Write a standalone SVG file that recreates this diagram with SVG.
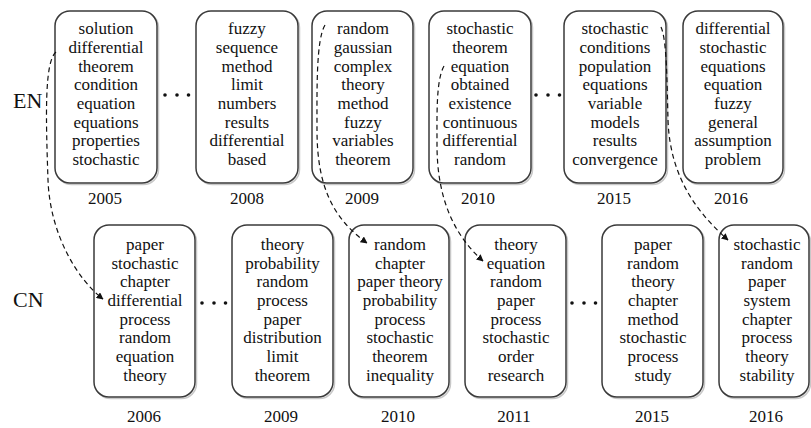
<svg xmlns="http://www.w3.org/2000/svg" width="811" height="428" viewBox="0 0 811 428">
<style>
  .box { fill: #ffffff; stroke: #3a3a3a; stroke-width: 1.5; }
  .shadow { fill: none; stroke: #c8c8c8; stroke-width: 1.5; }
  .t { font-family: "Liberation Serif", "Times New Roman", serif; font-size: 17px; fill: #111; text-anchor: middle; }
  .yr { font-family: "Liberation Serif", "Times New Roman", serif; font-size: 17px; fill: #111; text-anchor: middle; }
  .lang { font-family: "Liberation Serif", "Times New Roman", serif; font-size: 22px; fill: #111; }
  .conn { fill: none; stroke: #111; stroke-width: 1.2; stroke-dasharray: 5 3.5; }
  .dot { fill: #111; }
</style>
<defs>
  <marker id="arr" viewBox="0 0 10 10" refX="9" refY="5" markerWidth="7" markerHeight="7" markerUnits="userSpaceOnUse" orient="auto">
    <path d="M0,0 L10,5 L0,10 z" fill="#111"/>
  </marker>
</defs>
<rect width="811" height="428" fill="#ffffff"/>

<text class="lang" x="13" y="108">EN</text>
<text class="lang" x="13" y="307">CN</text>

<!-- Top row -->
<g id="en2005">
  <rect class="shadow" x="56.5" y="12.5" width="102" height="172" rx="15"/>
  <rect class="box" x="55" y="11" width="102" height="172" rx="15"/>
  <text class="t" x="106" y="34.3">solution</text>
  <text class="t" x="106" y="53">differential</text>
  <text class="t" x="106" y="71.6">theorem</text>
  <text class="t" x="106" y="90.3">condition</text>
  <text class="t" x="106" y="109">equation</text>
  <text class="t" x="106" y="127.6">equations</text>
  <text class="t" x="106" y="146.3">properties</text>
  <text class="t" x="106" y="165">stochastic</text>
  <text class="yr" x="105" y="204">2005</text>
</g>
<g id="en2008">
  <rect class="shadow" x="197.5" y="12.5" width="102" height="172" rx="15"/>
  <rect class="box" x="196" y="11" width="102" height="172" rx="15"/>
  <text class="t" x="247" y="34.3">fuzzy</text>
  <text class="t" x="247" y="53">sequence</text>
  <text class="t" x="247" y="71.6">method</text>
  <text class="t" x="247" y="90.3">limit</text>
  <text class="t" x="247" y="109">numbers</text>
  <text class="t" x="247" y="127.6">results</text>
  <text class="t" x="247" y="146.3">differential</text>
  <text class="t" x="247" y="165">based</text>
  <text class="yr" x="247" y="204">2008</text>
</g>
<g id="en2009">
  <rect class="shadow" x="313.5" y="12.5" width="101" height="172" rx="15"/>
  <rect class="box" x="312" y="11" width="101" height="172" rx="15"/>
  <text class="t" x="363" y="34.3">random</text>
  <text class="t" x="363" y="53">gaussian</text>
  <text class="t" x="363" y="71.6">complex</text>
  <text class="t" x="363" y="90.3">theory</text>
  <text class="t" x="363" y="109">method</text>
  <text class="t" x="363" y="127.6">fuzzy</text>
  <text class="t" x="363" y="146.3">variables</text>
  <text class="t" x="363" y="165">theorem</text>
  <text class="yr" x="362" y="204">2009</text>
</g>
<g id="en2010">
  <rect class="shadow" x="430.5" y="12.5" width="102" height="172" rx="15"/>
  <rect class="box" x="429" y="11" width="102" height="172" rx="15"/>
  <text class="t" x="480" y="34.3">stochastic</text>
  <text class="t" x="480" y="53">theorem</text>
  <text class="t" x="480" y="71.6">equation</text>
  <text class="t" x="480" y="90.3">obtained</text>
  <text class="t" x="480" y="109">existence</text>
  <text class="t" x="480" y="127.6">continuous</text>
  <text class="t" x="480" y="146.3">differential</text>
  <text class="t" x="480" y="165">random</text>
  <text class="yr" x="478" y="204">2010</text>
</g>
<g id="en2015">
  <rect class="shadow" x="565.5" y="12.5" width="102" height="172" rx="15"/>
  <rect class="box" x="564" y="11" width="102" height="172" rx="15"/>
  <text class="t" x="615" y="34.3">stochastic</text>
  <text class="t" x="615" y="53">conditions</text>
  <text class="t" x="615" y="71.6">population</text>
  <text class="t" x="615" y="90.3">equations</text>
  <text class="t" x="615" y="109">variable</text>
  <text class="t" x="615" y="127.6">models</text>
  <text class="t" x="615" y="146.3">results</text>
  <text class="t" x="615" y="165">convergence</text>
  <text class="yr" x="614" y="204">2015</text>
</g>
<g id="en2016">
  <rect class="shadow" x="684.5" y="12.5" width="100" height="172" rx="15"/>
  <rect class="box" x="683" y="11" width="100" height="172" rx="15"/>
  <text class="t" x="733" y="34.3">differential</text>
  <text class="t" x="733" y="53">stochastic</text>
  <text class="t" x="733" y="71.6">equations</text>
  <text class="t" x="733" y="90.3">equation</text>
  <text class="t" x="733" y="109">fuzzy</text>
  <text class="t" x="733" y="127.6">general</text>
  <text class="t" x="733" y="146.3">assumption</text>
  <text class="t" x="733" y="165">problem</text>
  <text class="yr" x="731" y="204">2016</text>
</g>

<!-- Bottom row -->
<g id="cn2006">
  <rect class="shadow" x="95.5" y="226.5" width="101" height="172" rx="15"/>
  <rect class="box" x="94" y="225" width="101" height="172" rx="15"/>
  <text class="t" x="145" y="250">paper</text>
  <text class="t" x="145" y="268.7">stochastic</text>
  <text class="t" x="145" y="287.3">chapter</text>
  <text class="t" x="145" y="306">differential</text>
  <text class="t" x="145" y="324.7">process</text>
  <text class="t" x="145" y="343.3">random</text>
  <text class="t" x="145" y="362">equation</text>
  <text class="t" x="145" y="380.7">theory</text>
  <text class="yr" x="144" y="422">2006</text>
</g>
<g id="cn2009">
  <rect class="shadow" x="233.5" y="226.5" width="101" height="172" rx="15"/>
  <rect class="box" x="232" y="225" width="101" height="172" rx="15"/>
  <text class="t" x="282.5" y="250">theory</text>
  <text class="t" x="282.5" y="268.7">probability</text>
  <text class="t" x="282.5" y="287.3">random</text>
  <text class="t" x="282.5" y="306">process</text>
  <text class="t" x="282.5" y="324.7">paper</text>
  <text class="t" x="282.5" y="343.3">distribution</text>
  <text class="t" x="282.5" y="362">limit</text>
  <text class="t" x="282.5" y="380.7">theorem</text>
  <text class="yr" x="281" y="422">2009</text>
</g>
<g id="cn2010">
  <rect class="shadow" x="350.5" y="226.5" width="100" height="172" rx="15"/>
  <rect class="box" x="349" y="225" width="100" height="172" rx="15"/>
  <text class="t" x="400" y="250">random</text>
  <text class="t" x="400" y="268.7">chapter</text>
  <text class="t" x="400" y="287.3">paper theory</text>
  <text class="t" x="400" y="306">probability</text>
  <text class="t" x="400" y="324.7">process</text>
  <text class="t" x="400" y="343.3">stochastic</text>
  <text class="t" x="400" y="362">theorem</text>
  <text class="t" x="400" y="380.7">inequality</text>
  <text class="yr" x="398" y="422">2010</text>
</g>
<g id="cn2011">
  <rect class="shadow" x="466.5" y="226.5" width="101" height="172" rx="15"/>
  <rect class="box" x="465" y="225" width="101" height="172" rx="15"/>
  <text class="t" x="516" y="250">theory</text>
  <text class="t" x="516" y="268.7">equation</text>
  <text class="t" x="516" y="287.3">random</text>
  <text class="t" x="516" y="306">paper</text>
  <text class="t" x="516" y="324.7">process</text>
  <text class="t" x="516" y="343.3">stochastic</text>
  <text class="t" x="516" y="362">order</text>
  <text class="t" x="516" y="380.7">research</text>
  <text class="yr" x="514" y="422">2011</text>
</g>
<g id="cn2015">
  <rect class="shadow" x="603.5" y="226.5" width="101" height="172" rx="15"/>
  <rect class="box" x="602" y="225" width="101" height="172" rx="15"/>
  <text class="t" x="653" y="250">paper</text>
  <text class="t" x="653" y="268.7">random</text>
  <text class="t" x="653" y="287.3">theory</text>
  <text class="t" x="653" y="306">chapter</text>
  <text class="t" x="653" y="324.7">method</text>
  <text class="t" x="653" y="343.3">stochastic</text>
  <text class="t" x="653" y="362">process</text>
  <text class="t" x="653" y="380.7">study</text>
  <text class="yr" x="652" y="422">2015</text>
</g>
<g id="cn2016">
  <rect class="shadow" x="720.5" y="226.5" width="90" height="172" rx="15"/>
  <rect class="box" x="719" y="225" width="90" height="172" rx="15"/>
  <text class="t" x="767" y="250">stochastic</text>
  <text class="t" x="767" y="268.7">random</text>
  <text class="t" x="767" y="287.3">paper</text>
  <text class="t" x="767" y="306">system</text>
  <text class="t" x="767" y="324.7">chapter</text>
  <text class="t" x="767" y="343.3">process</text>
  <text class="t" x="767" y="362">theory</text>
  <text class="t" x="767" y="380.7">stability</text>
  <text class="yr" x="766" y="422">2016</text>
</g>

<!-- Ellipses -->
<g id="ellipses">
  <circle class="dot" cx="165" cy="95" r="1.8"/>
  <circle class="dot" cx="177" cy="95" r="1.8"/>
  <circle class="dot" cx="188.5" cy="95" r="1.8"/>
  <circle class="dot" cx="536" cy="95" r="1.8"/>
  <circle class="dot" cx="548" cy="95" r="1.8"/>
  <circle class="dot" cx="559.5" cy="95" r="1.8"/>
  <circle class="dot" cx="202" cy="303" r="1.8"/>
  <circle class="dot" cx="214" cy="303" r="1.8"/>
  <circle class="dot" cx="225.5" cy="303" r="1.8"/>
  <circle class="dot" cx="572" cy="303" r="1.8"/>
  <circle class="dot" cx="584" cy="303" r="1.8"/>
  <circle class="dot" cx="595.5" cy="303" r="1.8"/>
</g>

<!-- Connectors -->
<g id="connectors">
  <path class="conn" marker-end="url(#arr)" d="M56,52 C44,62 46,120 48,180 C50,235 78,280 103,299"/>
  <path class="conn" marker-end="url(#arr)" d="M325,25 C316,40 317,90 317,130 C317,185 332,218 367,243"/>
  <path class="conn" marker-end="url(#arr)" d="M444,66 C436,80 437,115 437,145 C437,200 455,236 483,261"/>
  <path class="conn" marker-end="url(#arr)" d="M661,27 C667,40 667,85 668,120 C670,180 700,215 728,240"/>
</g>
</svg>
